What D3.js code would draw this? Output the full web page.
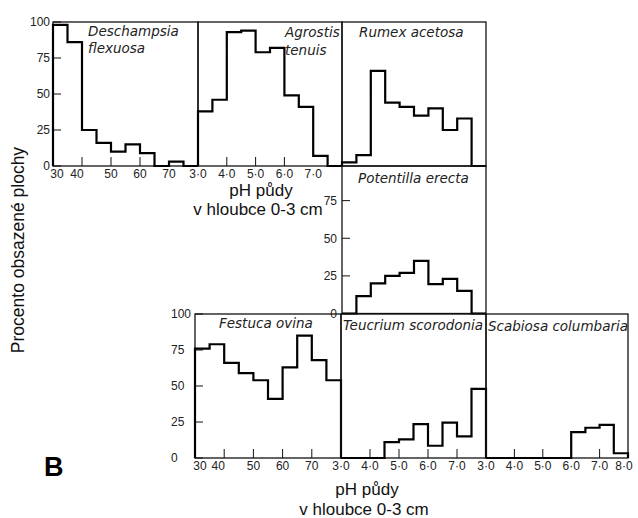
<!DOCTYPE html>
<html><head><meta charset="utf-8">
<script src="https://cdn.jsdelivr.net/npm/d3@7"></script>
<style>body{margin:0;background:#fff}svg{display:block}</style>
</head><body><svg id="c" width="638" height="518"></svg>
<script>
// ---- data ----
const binStarts = [3.0, 3.5, 4.0, 4.5, 5.0, 5.5, 6.0, 6.5, 7.0, 7.5];
const binWidth = 0.5;
const deschampsia = [98, 86, 25, 16, 10, 15, 9, 0, 3, 0];
const agrostis    = [38, 46, 93, 94, 79, 82, 49, 41, 7, 0];
const rumex       = [2.5, 7.5, 66, 44, 41, 35, 40, 25, 33, 0];
const potentilla  = [0, 11.5, 20, 25, 27, 35, 19.5, 23, 15, 0];
const festuca     = [76, 79, 66, 59, 54, 41, 63, 85, 68, 54];
const teucrium    = [0, 0, 0, 11, 13, 23.5, 8.5, 24.5, 15, 48];
const scabiosa    = [0, 0, 0, 0, 0, 0, 18, 21, 23, 3.3];
const speciesNames = [["Deschampsia", "flexuosa"], ["Agrostis", "tenuis"], ["Rumex acetosa"],
  ["Potentilla erecta"], ["Festuca ovina"], ["Teucrium scorodonia"], ["Scabiosa columbaria"]];
const xTickValues = [3, 4, 5, 6, 7, 8];
const xTickLabelsPlain = ["30", "40", "50", "60", "70"];
const xTickLabelsDot = ["3·0", "4·0", "5·0", "6·0", "7·0", "8·0"];
const yTickValues = [0, 25, 50, 75, 100];
const xAxisTitle = ["pH půdy", "v hloubce 0-3 cm"];
const yAxisTitle = "Procento obsazené plochy";
const panelLetter = "B";

// ---- layout ----
const panels = [
  {v: deschampsia, x: [53, 198], y: [166, 22], xl: xTickLabelsPlain, shift: [4, -5, 0, 0, 0], ticks: [4, 5, 6],
   yl: {n: 5, x: 50, a: "end"}, name: {x: 88, y: [36, 53]}},
  {v: agrostis, x: [198, 342], y: [166, 22], xl: xTickLabelsDot.slice(0, 5), ticks: [4, 5, 6],
   name: {x: 285, y: [37, 55]}},
  {v: rumex, x: [342, 486], y: [166, 22], ticks: [], name: {x: 359, y: [37]}},
  {v: potentilla, x: [342, 486], y: [313.5, 163], top: 166, ticks: [], yl: {n: 4, x: 337, a: "end"},
   name: {x: 358, y: [183]}},
  {v: festuca, x: [195, 341], y: [458, 314], xl: xTickLabelsPlain, shift: [5, -6, 0, 0, 0], ticks: [4, 5, 6, 7],
   yl: {n: 5, x: 171, a: "start"}, name: {x: 219, y: [328]}},
  {v: teucrium, x: [341, 486], y: [458, 314], xl: xTickLabelsDot.slice(0, 5), ticks: [4, 5, 6, 7],
   name: {x: 343, y: [330]}},
  {v: scabiosa, x: [486, 628], y: [458, 314], xl: xTickLabelsDot, shift: [0, 0, 0, 0, 0, -4], ticks: [4, 5, 7],
   name: {x: 488, y: [331]}}
];

const svg = d3.select("#c");
const numFont = "'Liberation Sans', Arial, sans-serif";
const nameFont = "'DejaVu Sans', sans-serif";

panels.forEach((p, i) => {
  const x = d3.scaleLinear().domain([3, 8]).range(p.x);
  const y = d3.scaleLinear().domain([0, 100]).range(p.y);
  const g = svg.append("g");
  const top = p.top !== undefined ? p.top : y(100);
  g.append("rect").attr("x", x(3)).attr("y", top).attr("width", x(8) - x(3)).attr("height", y(0) - top)
    .attr("fill", "none").attr("stroke", "#111").attr("stroke-width", 1.3);
  g.selectAll(".xt").data(p.ticks).join("line")
    .attr("x1", d => x(d)).attr("x2", d => x(d)).attr("y1", y(0)).attr("y2", y(0) - 9)
    .attr("stroke", "#111").attr("stroke-width", 1);
  if (p.xl) {
    g.selectAll(".xlab").data(p.xl).join("text")
      .attr("x", (d, k) => x(xTickValues[k]) + (p.shift ? p.shift[k] : 0)).attr("y", y(0) + 12)
      .attr("text-anchor", "middle").attr("font-family", numFont).attr("font-size", 12).attr("fill", "#222")
      .text(d => d);
  }
  if (p.yl) {
    const vals = yTickValues.slice(0, p.yl.n);
    g.selectAll(".yt").data(vals).join("line")
      .attr("x1", x(3)).attr("x2", x(3) + 8).attr("y1", d => y(d)).attr("y2", d => y(d))
      .attr("stroke", "#111").attr("stroke-width", 1);
    g.selectAll(".ylab").data(vals).join("text")
      .attr("x", p.yl.x).attr("y", d => y(d)).attr("dy", "0.36em").attr("text-anchor", p.yl.a)
      .attr("font-family", numFont).attr("font-size", 12).attr("fill", "#222").text(d => d);
  }
  const pts = [[binStarts[0], 0]];
  binStarts.forEach((b, k) => { pts.push([b, p.v[k]]); pts.push([b + binWidth, p.v[k]]); });
  pts.push([binStarts[binStarts.length - 1] + binWidth, 0]);
  const line = d3.line().x(d => x(d[0])).y(d => y(d[1]));
  g.append("path").attr("d", line(pts)).attr("fill", "none").attr("stroke", "#000")
    .attr("stroke-width", 2.2).attr("stroke-linejoin", "miter");
  speciesNames[i].forEach((t, k) => {
    g.append("text").attr("x", p.name.x).attr("y", p.name.y[k]).attr("font-family", nameFont)
      .attr("font-style", "italic").attr("font-size", 13.5).attr("fill", "#222").text(t);
  });
});

const titleFont = "'Liberation Sans', Arial, sans-serif";
[[261, 196, 215], [367, 495, 515]].forEach(([cx, y1, y2]) => {
  svg.append("text").attr("x", cx).attr("y", y1).attr("text-anchor", "middle").attr("font-family", titleFont)
    .attr("font-size", 17).attr("fill", "#111").text(xAxisTitle[0]);
  svg.append("text").attr("x", cx - 3).attr("y", y2).attr("text-anchor", "middle").attr("font-family", titleFont)
    .attr("font-size", 17).attr("fill", "#111").text(xAxisTitle[1]);
});
svg.append("text").attr("transform", "translate(24,250) rotate(-90)").attr("text-anchor", "middle")
  .attr("font-family", titleFont).attr("font-size", 17.5).attr("fill", "#111").text(yAxisTitle);
svg.append("text").attr("x", 44).attr("y", 476).attr("font-family", titleFont).attr("font-weight", "bold")
  .attr("font-size", 27).attr("fill", "#000").text(panelLetter);
</script></body></html>
